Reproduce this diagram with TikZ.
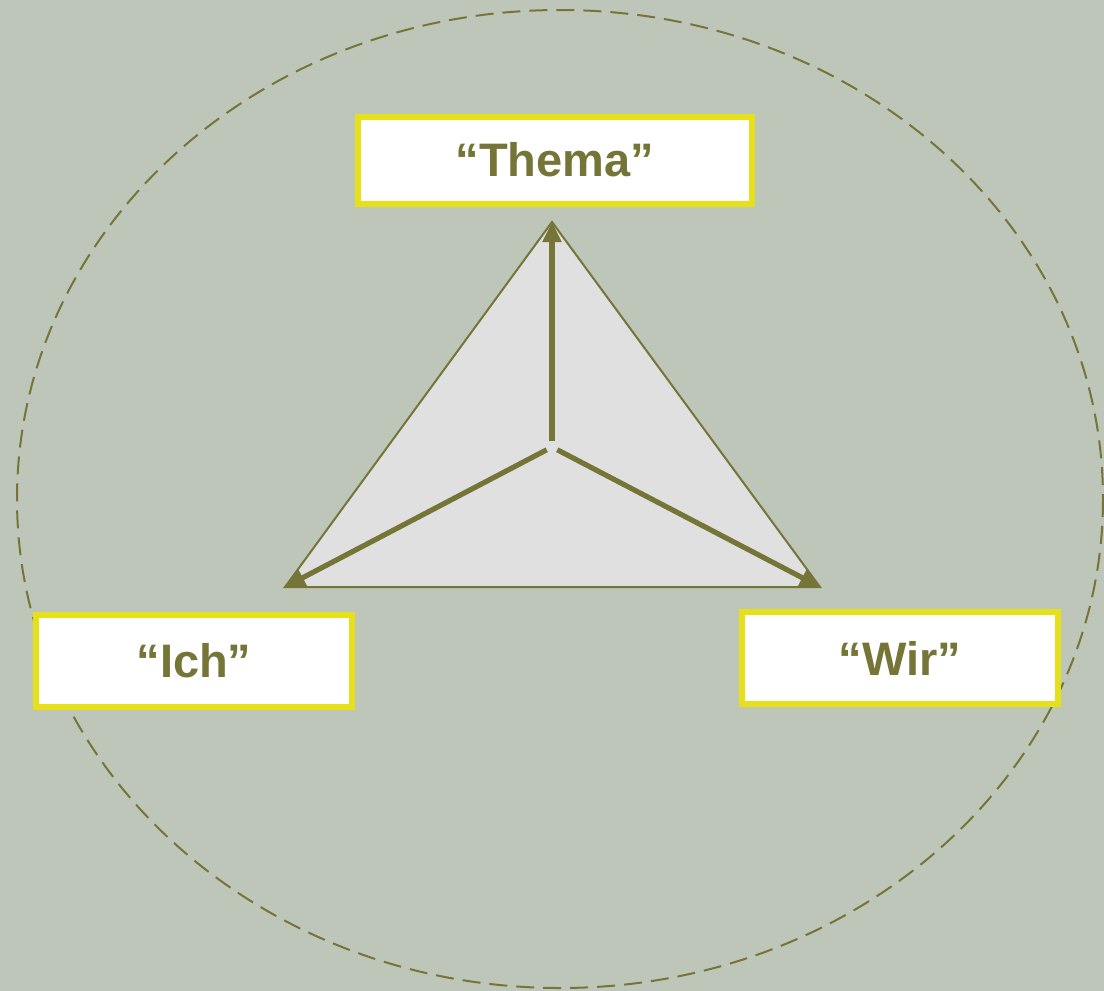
\documentclass[tikz,border=0pt]{standalone}
\usepackage{fontspec}
\setmainfont{Liberation Sans}
\usetikzlibrary{arrows.meta}

\definecolor{bggray}{RGB}{190,198,186}
\definecolor{olive}{RGB}{117,117,56}
\definecolor{boxyellow}{RGB}{230,224,26}
\definecolor{trifill}{RGB}{224,224,224}

\tikzset{
  labelbox/.style={draw=boxyellow,line width=3pt,fill=white,
    minimum width=197pt,minimum height=43.5pt,inner sep=0pt,
    text=olive,font=\fontsize{23.5}{28}\selectfont\bfseries},
  pointer/.style={draw=olive,line width=2.6pt,
    -{Triangle[length=10pt,width=9pt]}},
}

\begin{document}
\begin{tikzpicture}[x=0.5pt,y=-0.5pt]
\useasboundingbox (0,0) rectangle (1104,991);
\fill[bggray] (0,0) rectangle (1104,991);

\draw[olive,line width=1pt,dash pattern=on 9pt off 4.5pt] (560,499) ellipse [x radius=543,y radius=489];

\coordinate (top) at (552,222);
\coordinate (left) at (285,587);
\coordinate (right) at (820,587);
\coordinate (mid) at (552,447);

\draw[olive,line width=1pt,fill=trifill] (top)--(left)--(right)--cycle;

\draw[pointer,shorten <=3pt] (mid)--(top);
\draw[pointer,shorten <=3pt] (mid)--(left);
\draw[pointer,shorten <=3pt] (mid)--(right);

\node[labelbox,minimum width=197pt] (thema) at (555,160) {“Thema”};
\node[labelbox,minimum width=158pt,minimum height=46pt] (ich) at (194,661) {“Ich”};
\node[labelbox,minimum width=158pt,minimum height=46pt] (wir) at (900,658) {“Wir”};
\end{tikzpicture}
\end{document}
